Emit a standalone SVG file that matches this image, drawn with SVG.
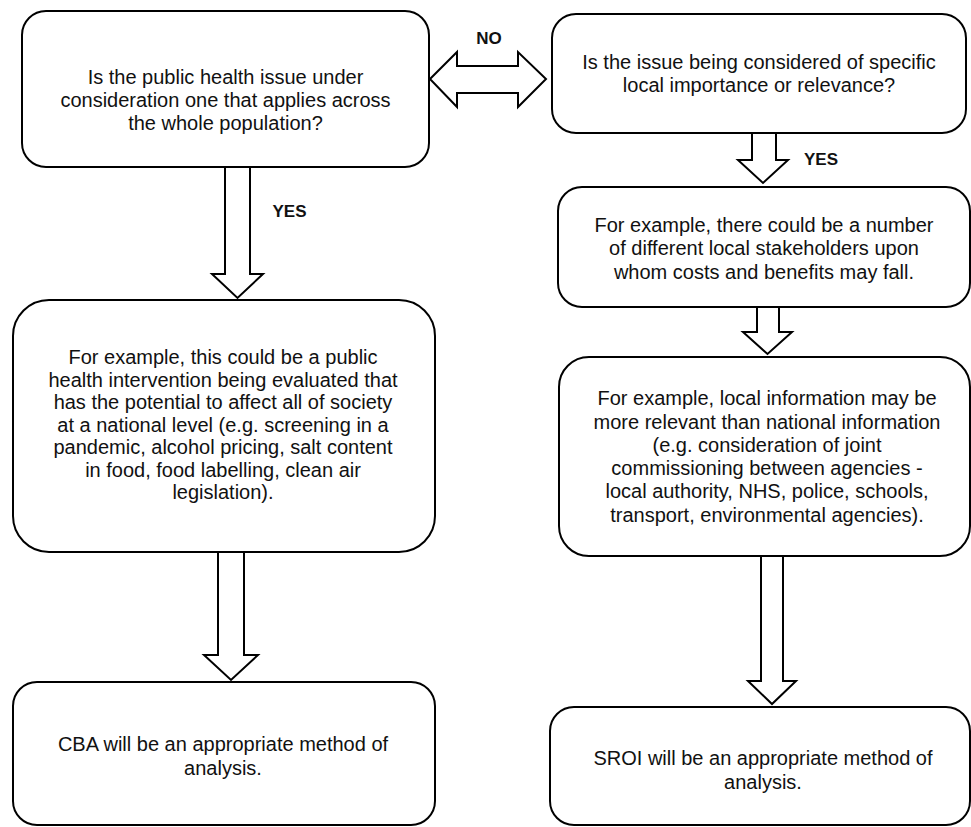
<svg xmlns="http://www.w3.org/2000/svg" width="971" height="827" viewBox="0 0 971 827">
<style>
.box{fill:#fff;stroke:#000;stroke-width:2}
.arr{fill:#fff;stroke:#000;stroke-width:2;stroke-linejoin:miter}
.t{font-family:"Liberation Sans",Arial,sans-serif;font-size:20px;fill:#111;text-anchor:middle}
.lbl{font-family:"Liberation Sans",Arial,sans-serif;font-size:17px;font-weight:bold;fill:#111;text-anchor:middle}
</style>
<rect width="971" height="827" fill="#fff"/>
<g id="n1">
<rect class="box" x="22" y="11" width="407" height="156" rx="24"/>
<text class="t"><tspan x="225.5" y="84">Is the public health issue under</tspan><tspan x="225.5" y="107">consideration one that applies across</tspan><tspan x="225.5" y="130">the whole population?</tspan></text>
</g>
<g id="n2">
<rect class="box" x="552" y="14" width="414" height="119" rx="24"/>
<text class="t"><tspan x="759" y="69">Is the issue being considered of specific</tspan><tspan x="759" y="92">local importance or relevance?</tspan></text>
</g>
<g id="n3">
<rect class="box" x="13" y="300" width="422" height="252" rx="36"/>
<text class="t"><tspan x="223" y="364">For example, this could be a public</tspan><tspan x="223" y="386.5">health intervention being evaluated that</tspan><tspan x="223" y="409">has the potential to affect all of society</tspan><tspan x="223" y="431.5">at a national level (e.g. screening in a</tspan><tspan x="223" y="454">pandemic, alcohol pricing, salt content</tspan><tspan x="223" y="476.5">in food, food labelling, clean air</tspan><tspan x="223" y="499">legislation).</tspan></text>
</g>
<g id="n4">
<rect class="box" x="558" y="187" width="412" height="120" rx="24"/>
<text class="t"><tspan x="764" y="232">For example, there could be a number</tspan><tspan x="764" y="255">of different local stakeholders upon</tspan><tspan x="764" y="278.5">whom costs and benefits may fall.</tspan></text>
</g>
<g id="n5">
<rect class="box" x="559" y="357" width="411" height="199" rx="30"/>
<text class="t"><tspan x="767" y="405">For example, local information may be</tspan><tspan x="767" y="428.5">more relevant than national information</tspan><tspan x="767" y="452">(e.g. consideration of joint</tspan><tspan x="767" y="475">commissioning between agencies -</tspan><tspan x="767" y="498">local authority, NHS, police, schools,</tspan><tspan x="767" y="521.5">transport, environmental agencies).</tspan></text>
</g>
<g id="n6">
<rect class="box" x="13" y="682" width="422" height="143" rx="24"/>
<text class="t"><tspan x="223" y="751">CBA will be an appropriate method of</tspan><tspan x="223" y="775">analysis.</tspan></text>
</g>
<g id="n7">
<rect class="box" x="550" y="707" width="420" height="118" rx="24"/>
<text class="t"><tspan x="763" y="765">SROI will be an appropriate method of</tspan><tspan x="763" y="789">analysis.</tspan></text>
</g>
<g id="connectors">
<polygon class="arr" points="430,79 457,52 457,66 518,66 518,52 546,79 518,107 518,93 457,93 457,107"/>
<text class="lbl" x="489" y="44">NO</text>
<polygon class="arr" points="225,167 250,167 250,274 263,274 237.5,298 212,274 225,274"/>
<text class="lbl" x="289.5" y="217">YES</text>
<polygon class="arr" points="218,552 244,552 244,655 258,655 231,680 204,655 218,655"/>
<polygon class="arr" points="752,133 776,133 776,160 788,160 763,183 738,160 752,160"/>
<text class="lbl" x="821" y="165">YES</text>
<polygon class="arr" points="757,307 779,307 779,332 792,332 767.5,354 743,332 757,332"/>
<polygon class="arr" points="761,556 783,556 783,681 796,681 772,704 748,681 761,681"/>
</g>
</svg>
